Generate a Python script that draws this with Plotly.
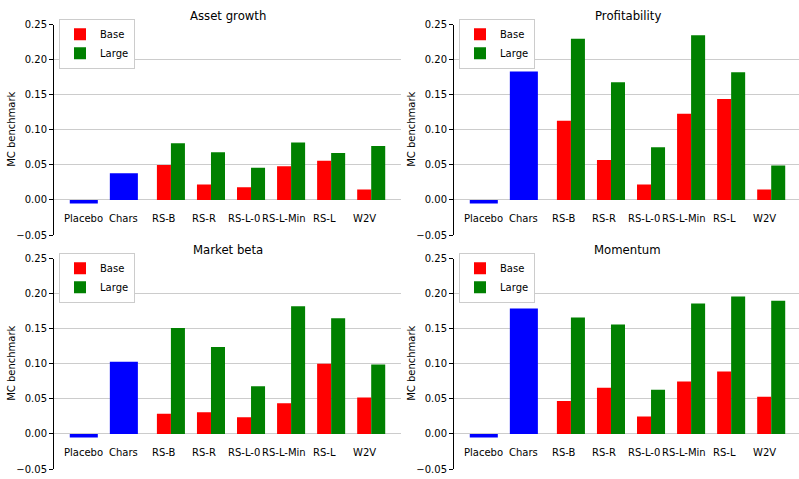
import plotly.graph_objects as go

# ---------------- data ----------------
categories = ["Placebo", "Chars", "RS-B", "RS-R", "RS-L-0", "RS-L-Min", "RS-L", "W2V"]
single_models = ["Placebo", "Chars"]
paired_models = ["RS-B", "RS-R", "RS-L-0", "RS-L-Min", "RS-L", "W2V"]
panel_titles = ["Asset growth", "Profitability", "Market beta", "Momentum"]
series_names = ["Base", "Large"]

asset_single = [-0.005, 0.038]
asset_base = [0.050, 0.022, 0.018, 0.048, 0.056, 0.015]
asset_large = [0.081, 0.068, 0.046, 0.082, 0.067, 0.077]

prof_single = [-0.005, 0.183]
prof_base = [0.113, 0.057, 0.022, 0.123, 0.144, 0.015]
prof_large = [0.230, 0.168, 0.075, 0.235, 0.182, 0.049]

beta_single = [-0.005, 0.103]
beta_base = [0.029, 0.031, 0.024, 0.044, 0.100, 0.052]
beta_large = [0.151, 0.124, 0.068, 0.182, 0.165, 0.099]

mom_single = [-0.005, 0.179]
mom_base = [0.047, 0.066, 0.025, 0.075, 0.089, 0.053]
mom_large = [0.166, 0.156, 0.063, 0.186, 0.196, 0.190]

y_tickvals = [-0.05, 0.00, 0.05, 0.10, 0.15, 0.20, 0.25]
y_ticktext = ["\u22120.05", "0.00", "0.05", "0.10", "0.15", "0.20", "0.25"]
y_title = "MC benchmark"

# ---------------- layout geometry ----------------
W, H = 799, 479
FONT = "DejaVu Sans"
BAR_W = 0.35
PANEL_W = 347


def px_x(p):
    return p / W


def px_y(p):
    return 1 - p / H


panels = [
    dict(title=panel_titles[0], single=asset_single, base=asset_base, large=asset_large,
         xd=(54, 401), yd=(20, 235)),
    dict(title=panel_titles[1], single=prof_single, base=prof_base, large=prof_large,
         xd=(454, 799), yd=(20, 235)),
    dict(title=panel_titles[2], single=beta_single, base=beta_base, large=beta_large,
         xd=(54, 401), yd=(259, 474)),
    dict(title=panel_titles[3], single=mom_single, base=mom_base, large=mom_large,
         xd=(454, 799), yd=(259, 474)),
]

XMIN, XMAX_FULL = -0.744, 7.919
px_per_unit = PANEL_W / (XMAX_FULL - XMIN)

fig = go.Figure()
layout = dict(
    width=W, height=H,
    margin=dict(l=0, r=0, t=0, b=0),
    paper_bgcolor="white", plot_bgcolor="white",
    barmode="overlay",
    font=dict(family=FONT, size=10, color="black"),
    showlegend=True,
)
annotations = []

for k, p in enumerate(panels):
    n = "" if k == 0 else str(k + 1)
    xa, ya = "x" + n, "y" + n
    leg = "legend" + n

    xs_single = [categories.index(c) for c in single_models]
    xs_base = [categories.index(c) for c in paired_models]
    xs_large = [categories.index(c) + BAR_W for c in paired_models]

    fig.add_trace(go.Bar(x=xs_single, y=p["single"], width=2 * BAR_W,
                         marker=dict(color="#0000ff", line=dict(width=0)),
                         showlegend=False, xaxis=xa, yaxis=ya, hoverinfo="skip"))
    fig.add_trace(go.Bar(x=xs_base, y=p["base"], width=BAR_W, name=series_names[0],
                         marker=dict(color="#ff0000", line=dict(width=0)),
                         legend=leg, xaxis=xa, yaxis=ya))
    fig.add_trace(go.Bar(x=xs_large, y=p["large"], width=BAR_W, name=series_names[1],
                         marker=dict(color="#008000", line=dict(width=0)),
                         legend=leg, xaxis=xa, yaxis=ya))

    x0, x1 = p["xd"]
    y0, y1 = p["yd"]
    xmax = XMIN + (x1 - x0) / px_per_unit
    layout["xaxis" + n] = dict(
        domain=[px_x(x0), px_x(x1)], range=[XMIN, xmax], anchor=ya,
        showgrid=False, zeroline=False, showline=False, showticklabels=False,
        ticks="", fixedrange=True,
    )
    layout["yaxis" + n] = dict(
        domain=[px_y(y1), px_y(y0)], range=[-0.05005, 0.25005], anchor=xa,
        tickvals=y_tickvals, ticktext=y_ticktext,
        showgrid=True, gridcolor="#cccccc", gridwidth=1.3,
        zeroline=False, showline=True, linecolor="black", linewidth=1,
        ticks="outside", ticklen=4, tickcolor="black", tickwidth=1,
        tickfont=dict(size=10, family=FONT, color="black"),
        fixedrange=True,
    )
    layout[leg] = dict(
        x=px_x(x0 + 5), y=px_y(y0 - 6), xanchor="left", yanchor="top",
        xref="paper", yref="paper",
        bgcolor="white", bordercolor="#cccccc", borderwidth=1,
        font=dict(size=10, family=FONT, color="black"),
        tracegroupgap=0, itemwidth=30,
    )

    # panel title
    annotations.append(dict(
        text=p["title"], x=(px_x(x0) + px_x(x0 + PANEL_W)) / 2,
        y=px_y(y0), xref="paper", yref="paper", xanchor="center", yanchor="bottom",
        showarrow=False, font=dict(size=11.7, family=FONT, color="black"),
    ))
    # y axis title
    annotations.append(dict(
        text=y_title, x=px_x(x0 - 42), y=px_y((y0 + y1) / 2), xref="paper", yref="paper",
        xanchor="center", yanchor="middle", textangle=-90, showarrow=False,
        font=dict(size=10, family=FONT, color="black"),
    ))
    # category labels, placed in data coordinates
    for i, c in enumerate(categories):
        annotations.append(dict(
            text=c, x=i, y=-0.0265, xref=xa, yref=ya, xanchor="center", yanchor="middle",
            showarrow=False, font=dict(size=10, family=FONT, color="black"),
        ))

layout["annotations"] = annotations
fig.update_layout(**layout)
fig.write_html("out.html")
